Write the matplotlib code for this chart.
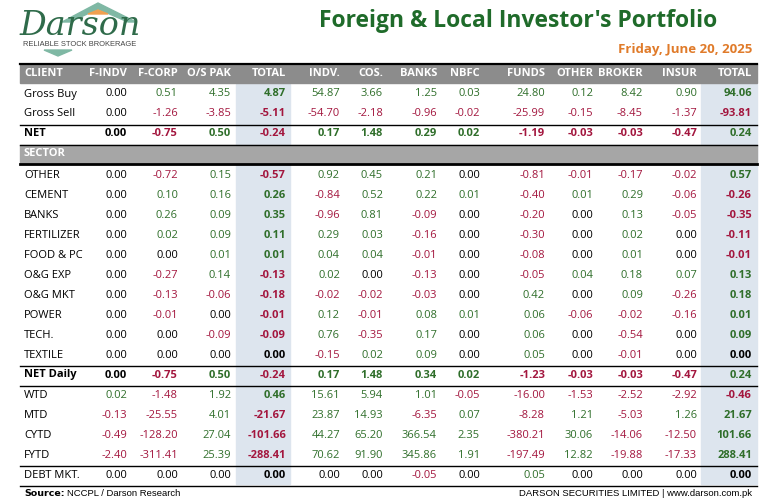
import matplotlib
matplotlib.use("Agg")
import matplotlib.pyplot as plt
from matplotlib.patches import Rectangle, Polygon

columns = ["CLIENT", "F-INDV", "F-CORP", "O/S PAK", "TOTAL", "INDV.", "COS.", "BANKS", "NBFC",
           "FUNDS", "OTHER", "BROKER", "INSUR", "TOTAL"]
client_rows = ["Gross Buy", "Gross Sell", "NET"]
client_vals = [
    [0.00, 0.51, 4.35, 4.87, 54.87, 3.66, 1.25, 0.03, 24.80, 0.12, 8.42, 0.90, 94.06],
    [0.00, -1.26, -3.85, -5.11, -54.70, -2.18, -0.96, -0.02, -25.99, -0.15, -8.45, -1.37, -93.81],
    [0.00, -0.75, 0.50, -0.24, 0.17, 1.48, 0.29, 0.02, -1.19, -0.03, -0.03, -0.47, 0.24],
]
sector_rows = ["OTHER", "CEMENT", "BANKS", "FERTILIZER", "FOOD & PC", "O&G EXP", "O&G MKT",
               "POWER", "TECH.", "TEXTILE"]
sector_vals = [
    [0.00, -0.72, 0.15, -0.57, 0.92, 0.45, 0.21, 0.00, -0.81, -0.01, -0.17, -0.02, 0.57],
    [0.00, 0.10, 0.16, 0.26, -0.84, 0.52, 0.22, 0.01, -0.40, 0.01, 0.29, -0.06, -0.26],
    [0.00, 0.26, 0.09, 0.35, -0.96, 0.81, -0.09, 0.00, -0.20, 0.00, 0.13, -0.05, -0.35],
    [0.00, 0.02, 0.09, 0.11, 0.29, 0.03, -0.16, 0.00, -0.30, 0.00, 0.02, 0.00, -0.11],
    [0.00, 0.00, 0.01, 0.01, 0.04, 0.04, -0.01, 0.00, -0.08, 0.00, 0.01, 0.00, -0.01],
    [0.00, -0.27, 0.14, -0.13, 0.02, 0.00, -0.13, 0.00, -0.05, 0.04, 0.18, 0.07, 0.13],
    [0.00, -0.13, -0.06, -0.18, -0.02, -0.02, -0.03, 0.00, 0.42, 0.00, 0.09, -0.26, 0.18],
    [0.00, -0.01, 0.00, -0.01, 0.12, -0.01, 0.08, 0.01, 0.06, -0.06, -0.02, -0.16, 0.01],
    [0.00, 0.00, -0.09, -0.09, 0.76, -0.35, 0.17, 0.00, 0.06, 0.00, -0.54, 0.00, 0.09],
    [0.00, 0.00, 0.00, 0.00, -0.15, 0.02, 0.09, 0.00, 0.05, 0.00, -0.01, 0.00, 0.00],
]
summary_rows = ["NET Daily", "WTD", "MTD", "CYTD", "FYTD", "DEBT MKT."]
summary_vals = [
    [0.00, -0.75, 0.50, -0.24, 0.17, 1.48, 0.34, 0.02, -1.23, -0.03, -0.03, -0.47, 0.24],
    [0.02, -1.48, 1.92, 0.46, 15.61, 5.94, 1.01, -0.05, -16.00, -1.53, -2.52, -2.92, -0.46],
    [-0.13, -25.55, 4.01, -21.67, 23.87, 14.93, -6.35, 0.07, -8.28, 1.21, -5.03, 1.26, 21.67],
    [-0.49, -128.20, 27.04, -101.66, 44.27, 65.20, 366.54, 2.35, -380.21, 30.06, -14.06, -12.50, 101.66],
    [-2.40, -311.41, 25.39, -288.41, 70.62, 91.90, 345.86, 1.91, -197.49, 12.82, -19.88, -17.33, 288.41],
    [0.00, 0.00, 0.00, 0.00, 0.00, 0.00, -0.05, 0.00, 0.05, 0.00, 0.00, 0.00, 0.00],
]

FONT = "Open Sans"
GREEN = "#2f6e2a"
RED = "#a3163e"
W, H = 762, 504
fig = plt.figure(figsize=(W / 100, H / 100), dpi=100)
ax = fig.add_axes([0, 0, 1, 1])
ax.set_xlim(0, W)
ax.set_ylim(H, 0)
ax.axis("off")

col_right = [127, 178, 231, 286, 340, 383, 437, 480, 545, 593, 643, 697, 752]
left, right = 20, 757
fs = 8.0

for x0, x1 in [(236, 290), (701, 757)]:
    ax.add_patch(Rectangle((x0, 84), x1 - x0, 400, color="#dde5ee", zorder=0))

ax.add_patch(Rectangle((left, 64), right - left, 19, color="#8c8c8c", zorder=1))
ax.plot([left, right], [63.5, 63.5], color="black", lw=1.6)
ax.text(24, 73.5, columns[0], color="white", fontsize=fs, fontweight="bold", family=FONT, va="center")
for c, x in zip(columns[1:], col_right):
    ax.text(x, 73.5, c, color="white", fontsize=fs, fontweight="bold", family=FONT, va="center", ha="right")

def fmt(v):
    return f"{v:.2f}"

def color_of(v):
    if v > 0:
        return GREEN
    if v < 0:
        return RED
    return "black"

def draw_row(y, label, vals, bold_row=False):
    ax.text(24, y, label, fontsize=fs, family=FONT, va="center",
            fontweight="bold" if bold_row else "normal")
    for i, (v, x) in enumerate(zip(vals, col_right)):
        b = bold_row or i in (3, 12)
        ax.text(x, y, fmt(v), fontsize=fs, family=FONT, va="center", ha="right",
                color=color_of(v), fontweight="bold" if b else "normal")

y = 94
for lab, vals in zip(client_rows, client_vals):
    draw_row(y, lab, vals, bold_row=(lab == "NET"))
    y += 20
ax.plot([left, right], [124.5, 124.5], color="black", lw=1)
ax.plot([left, right], [144.5, 144.5], color="black", lw=1)

ax.add_patch(Rectangle((left, 145), right - left, 18, color="#a6a6a6", zorder=1))
ax.text(24, 154, "SECTOR", color="white", fontsize=fs, fontweight="bold", family=FONT, va="center")
ax.plot([left, right], [164, 164], color="black", lw=2)

y = 175
for lab, vals in zip(sector_rows, sector_vals):
    draw_row(y, lab, vals)
    y += 20
ax.plot([left, right], [365.5, 365.5], color="black", lw=1)
for lab, vals in zip(summary_rows, summary_vals):
    draw_row(y, lab, vals, bold_row=(lab == "NET Daily"))
    y += 20
ax.plot([left, right], [385.5, 385.5], color="black", lw=1)
ax.plot([left, right], [465.5, 465.5], color="black", lw=1)
ax.plot([left, right], [485.5, 485.5], color="black", lw=1)

ax.text(24, 494, "Source:", fontsize=6.8, fontweight="bold", family="DejaVu Sans", va="center")
ax.text(67, 494, "NCCPL / Darson Research", fontsize=6.8, family="Liberation Sans", va="center")
ax.text(752, 494, "DARSON SECURITIES LIMITED | www.darson.com.pk", fontsize=6.8,
        family="Liberation Sans", va="center", ha="right")

ax.text(518, 21, "Foreign & Local Investor's Portfolio", fontsize=16.5, fontweight="bold",
        color="#1f6b2a", family=FONT, ha="center", va="center")
ax.text(752, 50, "Friday, June 20, 2025", fontsize=9.5, fontweight="bold", color="#e07b2a",
        family=FONT, ha="right", va="center")

# logo
ax.add_patch(Polygon([[62, 22], [98, 3], [136, 22], [128, 22], [98, 9], [70, 22]],
                     closed=True, color="#7fb8a4"))
ax.add_patch(Polygon([[88, 14], [98, 10], [108, 14]], closed=True, color="#f0a050"))
ax.text(80, 26, "Darson", fontsize=24, style="italic", family="DejaVu Serif",
        color="#2f6b4a", ha="center", va="center")
ax.text(80, 45, "RELIABLE STOCK BROKERAGE", fontsize=5.4, family="Liberation Sans",
        color="#444444", ha="center", va="center")
ax.add_patch(Polygon([[44, 50], [72, 50], [58, 56]], closed=True, color="#7fb8a4"))

fig.savefig("out.png", dpi=100)
